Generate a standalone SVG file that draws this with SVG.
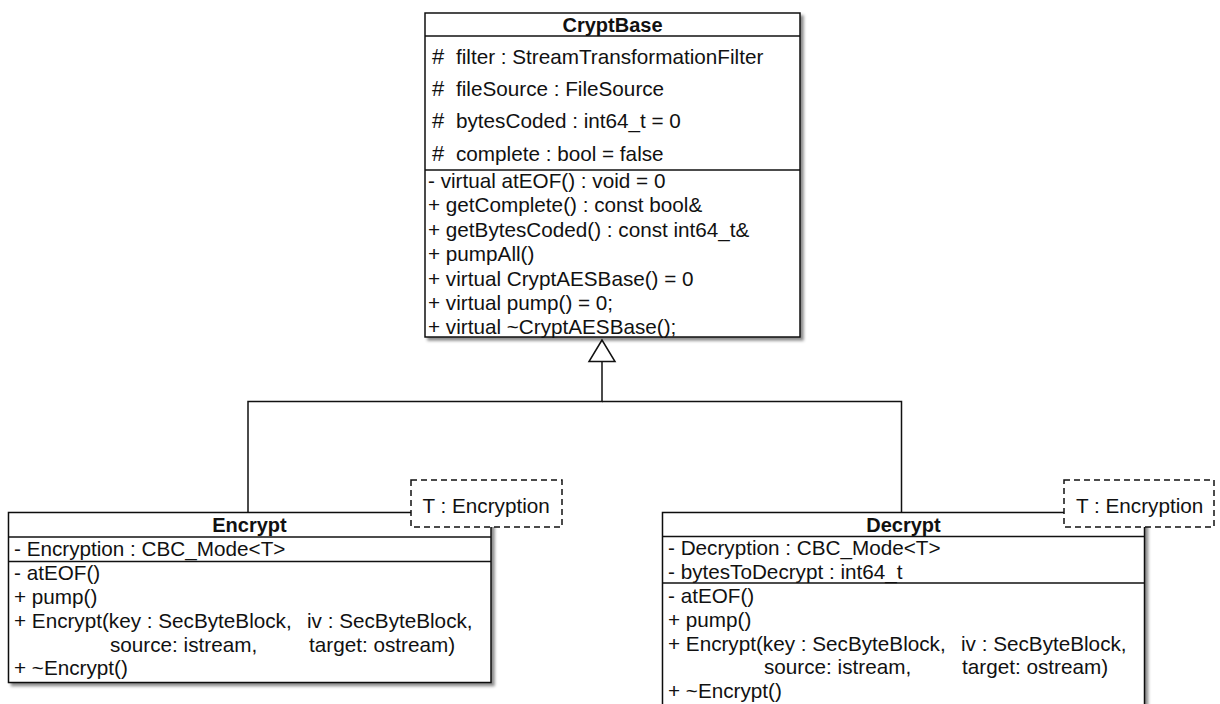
<svg xmlns="http://www.w3.org/2000/svg" width="1220" height="704" viewBox="0 0 1220 704">
  <defs>
    <filter id="shadow" x="-5%" y="-5%" width="112%" height="112%">
      <feDropShadow dx="3" dy="3" stdDeviation="1.6" flood-color="#000" flood-opacity="0.45"/>
    </filter>
    <style>
      .box { fill: #fff; stroke: #111; stroke-width: 1.5; }
      .sep { stroke: #111; stroke-width: 1.5; }
      .tmpl { fill: #fff; stroke: #111; stroke-width: 1.5; stroke-dasharray: 6 4; }
      .edge { fill: none; stroke: #111; stroke-width: 1.5; }
      .head { fill: #fff; stroke: #111; stroke-width: 1.5; }
      text { font-family: "Liberation Sans", Arial, sans-serif; font-size: 20.7px; fill: #111; }
      .title { font-weight: bold; font-size: 20px; text-anchor: middle; }
      .hash { font-size: 22px; }
    </style>
  </defs>

  <rect width="1220" height="704" fill="#fff"/>

  <!-- generalization edges -->
  <g id="connectors">
    <path class="edge" d="M602 361.5 V401.5 H248 V512.5"/>
    <path class="edge" d="M602 401.5 H901.5 V512.5"/>
    <polygon class="head" points="602,340 589,361.5 615,361.5"/>
  </g>

  <!-- abstract base class -->
  <g id="CryptBase">
    <rect class="box" x="425" y="13" width="375" height="324" filter="url(#shadow)"/>
    <line class="sep" x1="425" y1="36" x2="800" y2="36"/>
    <line class="sep" x1="425" y1="170" x2="800" y2="170"/>
    <text class="title" x="612.5" y="32">CryptBase</text>
    <text class="hash" x="432" y="63.5">#</text>
    <text x="456" y="63.5">filter : StreamTransformationFilter</text>
    <text class="hash" x="432" y="96">#</text>
    <text x="456" y="96">fileSource : FileSource</text>
    <text class="hash" x="432" y="128">#</text>
    <text x="456" y="128">bytesCoded : int64_t = 0</text>
    <text class="hash" x="432" y="160.5">#</text>
    <text x="456" y="160.5">complete : bool = false</text>
    <text x="428" y="188">- virtual atEOF() : void = 0</text>
    <text x="428" y="212.4">+ getComplete() : const bool&amp;</text>
    <text x="428" y="236.8">+ getBytesCoded() : const int64_t&amp;</text>
    <text x="428" y="261.2">+ pumpAll()</text>
    <text x="428" y="285.6">+ virtual CryptAESBase() = 0</text>
    <text x="428" y="310">+ virtual pump() = 0;</text>
    <text x="428" y="334.4">+ virtual ~CryptAESBase();</text>
  </g>

  <!-- encrypting subclass -->
  <g id="Encrypt">
    <rect class="box" x="8.5" y="512.5" width="482.5" height="170" filter="url(#shadow)"/>
    <line class="sep" x1="8.5" y1="537" x2="491" y2="537"/>
    <line class="sep" x1="8.5" y1="561.5" x2="491" y2="561.5"/>
    <text class="title" x="249.5" y="532">Encrypt</text>
    <text x="14" y="555.7">- Encryption : CBC_Mode&lt;T&gt;</text>
    <text x="14" y="579.5">- atEOF()</text>
    <text x="14" y="603.5">+ pump()</text>
    <text x="14" y="627.5">+ Encrypt(key : SecByteBlock,</text>
    <text x="307" y="627.5">iv : SecByteBlock,</text>
    <text x="110" y="651.5">source: istream,</text>
    <text x="309" y="651.5">target: ostream)</text>
    <text x="14" y="675">+ ~Encrypt()</text>
  </g>
  <g id="EncryptTemplate">
    <rect class="tmpl" x="411" y="480" width="151" height="47"/>
    <text x="422.5" y="512.7">T : Encryption</text>
  </g>

  <!-- decrypting subclass -->
  <g id="Decrypt">
    <rect class="box" x="662.5" y="512.5" width="482" height="200" filter="url(#shadow)"/>
    <line class="sep" x1="662.5" y1="536.5" x2="1144.5" y2="536.5"/>
    <line class="sep" x1="662.5" y1="583" x2="1144.5" y2="583"/>
    <text class="title" x="903.5" y="531.7">Decrypt</text>
    <text x="668" y="555">- Decryption : CBC_Mode&lt;T&gt;</text>
    <text x="668" y="578.5">- bytesToDecrypt : int64_t</text>
    <text x="668" y="603">- atEOF()</text>
    <text x="668" y="627">+ pump()</text>
    <text x="668" y="650.5">+ Encrypt(key : SecByteBlock,</text>
    <text x="961" y="650.5">iv : SecByteBlock,</text>
    <text x="764" y="674">source: istream,</text>
    <text x="962" y="674">target: ostream)</text>
    <text x="668" y="698.3">+ ~Encrypt()</text>
  </g>
  <g id="DecryptTemplate">
    <rect class="tmpl" x="1064" y="480" width="150" height="47"/>
    <text x="1076" y="512.7">T : Encryption</text>
  </g>
</svg>
